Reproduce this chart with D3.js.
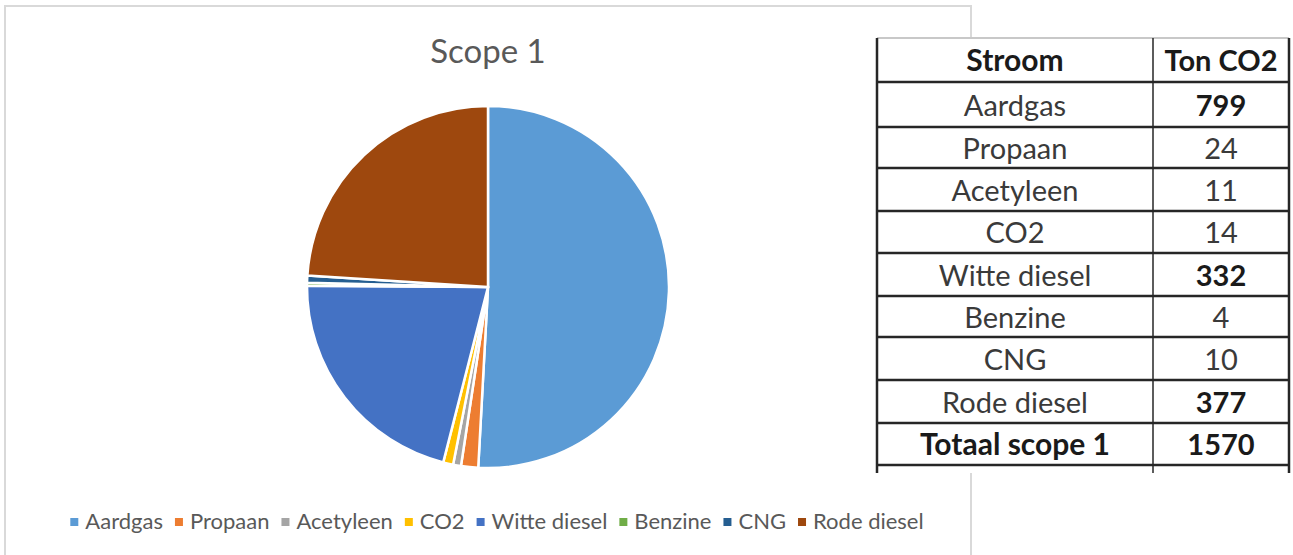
<!DOCTYPE html>
<meta charset="utf-8">
<style>

body {
  margin: 0;
  background: #fff;
}

svg {
  display: block;
  font-family: Lato, "Open Sans", sans-serif;
}

</style>
<svg width="1293" height="555"></svg>
<script src="https://cdn.jsdelivr.net/npm/d3@7"></script>
<script>

var categories = ["Aardgas", "Propaan", "Acetyleen", "CO2", "Witte diesel", "Benzine", "CNG", "Rode diesel"],
    values = [799, 24, 11, 14, 332, 4, 10, 377],
    colors = ["#5b9bd5", "#ed7d31", "#a5a5a5", "#ffc000", "#4472c4", "#70ad47", "#255e91", "#9e480e"],
    boldRows = ["Aardgas", "Witte diesel", "Rode diesel"],
    tableHeader = ["Stroom", "Ton CO2"],
    totalLabel = "Totaal scope 1",
    totalValue = 1570;

</script>
<script>

var svg = d3.select("svg");

// chart frame (continues below the window)
svg.append("rect")
    .attr("x", 5)
    .attr("y", 6)
    .attr("width", 966)
    .attr("height", 600)
    .attr("fill", "#fff")
    .attr("stroke", "#d9d9d9")
    .attr("stroke-width", 2);

svg.append("text")
    .attr("x", 488)
    .attr("y", 63)
    .attr("text-anchor", "middle")
    .attr("fill", "#595959")
    .style("font-size", "33px")
    .text("Scope 1");

var data = categories.map(function(c, i) { return {name: c, value: values[i]}; });

var color = d3.scaleOrdinal().domain(categories).range(colors);

var pie = d3.pie().sort(null).value(function(d) { return d.value; });
var arc = d3.arc().innerRadius(0).outerRadius(181);

svg.append("g")
    .attr("transform", "translate(488,287)")
  .selectAll("path")
  .data(pie(data))
  .enter().append("path")
    .attr("d", arc)
    .attr("fill", function(d) { return color(d.data.name); })
    .attr("stroke", "#fff")
    .attr("stroke-width", 2.5)
    .attr("stroke-linejoin", "round");

// legend, laid out by measured text width and centred
var legend = svg.append("g");

var item = legend.selectAll("g")
  .data(categories)
  .enter().append("g");

item.append("rect")
    .attr("y", -11)
    .attr("width", 8)
    .attr("height", 8)
    .attr("fill", function(d) { return color(d); });

item.append("text")
    .attr("x", 15)
    .attr("fill", "#595959")
    .style("font-size", "22px")
    .text(function(d) { return d; });

var x = 0, gap = 12;
item.each(function() {
  var g = d3.select(this), w = 15 + g.select("text").node().getComputedTextLength();
  g.attr("transform", "translate(" + x + ",0)");
  x += w + gap;
});
var total = x - gap;
legend.attr("transform", "translate(" + (497 - total / 2) + ",529)");

// table (sits on top of the chart frame)
var tx0 = 877, tx1 = 1153, tx2 = 1289;
var rowLines = [82, 127, 168, 211, 253, 296, 337, 380, 423, 465];
var rows = [tableHeader].concat(categories.map(function(c, i) { return [c, values[i]]; }), [[totalLabel, totalValue]]);
var rowTop = [38].concat(rowLines);

var table = svg.append("g");

table.append("rect")
    .attr("x", tx0)
    .attr("y", 38)
    .attr("width", tx2 - tx0)
    .attr("height", 435)
    .attr("fill", "#fff");

table.append("line")
    .attr("x1", tx0).attr("x2", tx2)
    .attr("y1", 38).attr("y2", 38)
    .attr("stroke", "#c8c8c8")
    .attr("stroke-width", 2);

table.selectAll(".h")
  .data(rowLines)
  .enter().append("line")
    .attr("x1", tx0).attr("x2", tx2)
    .attr("y1", function(d) { return d; })
    .attr("y2", function(d) { return d; })
    .attr("stroke", "#262626")
    .attr("stroke-width", 2.5);

table.selectAll(".v")
  .data([tx0, tx1, tx2])
  .enter().append("line")
    .attr("x1", function(d) { return d; })
    .attr("x2", function(d) { return d; })
    .attr("y1", 38).attr("y2", 473)
    .attr("stroke", "#262626")
    .attr("stroke-width", function(d, i) { return i === 1 ? 1.5 : 2.5; });

var row = table.selectAll(".row")
  .data(rows)
  .enter().append("g")
    .attr("transform", function(d, i) { return "translate(0," + ((rowTop[i] + rowTop[i + 1]) / 2 + 11) + ")"; });

row.each(function(d, i) {
  var g = d3.select(this);
  var bold = i === 0 || i === rows.length - 1;
  g.append("text")
      .attr("x", (tx0 + tx1) / 2)
      .attr("text-anchor", "middle")
      .attr("fill", bold ? "#1a1a1a" : "#3a3a3a")
      .style("font-size", bold ? "30px" : "29px")
      .style("font-weight", bold ? "bold" : "normal")
      .text(d[0]);
  var b2 = bold || boldRows.indexOf(d[0]) >= 0;
  g.append("text")
      .attr("x", (tx1 + tx2) / 2)
      .attr("text-anchor", "middle")
      .attr("fill", b2 ? "#1a1a1a" : "#3a3a3a")
      .style("font-size", "29px")
      .style("font-weight", b2 ? "bold" : "normal")
      .text(d[1]);
});

</script>
